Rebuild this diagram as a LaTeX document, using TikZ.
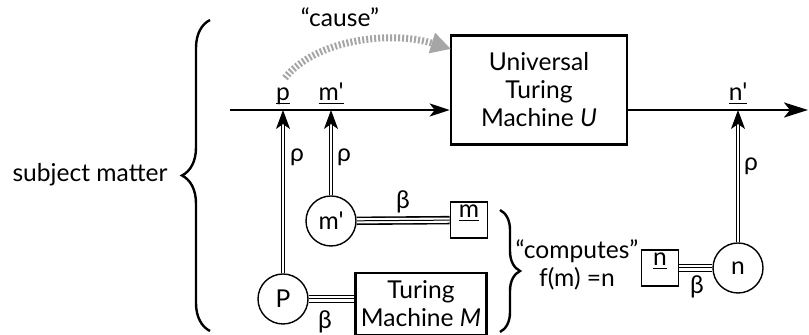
\documentclass[tikz,border=0pt]{standalone}
\usepackage{fontspec}
\setmainfont{Lato}[Ligatures=TeXOff]
\usetikzlibrary{arrows.meta,decorations.pathreplacing}
\definecolor{hatch}{HTML}{A6A6A6}
\newcommand\tok[1]{\underline{\smash{#1}}}

\begin{document}
\begin{tikzpicture}[x=.5pt,y=-.5pt,every node/.style={font=\fontsize{12.3}{14}\selectfont,inner sep=0pt,align=center},
  machine/.style={draw,line width=1.3pt},
  token/.style={draw,line width=.9pt,minimum width=18.5pt,minimum height=18pt},
  thing/.style={draw,circle,line width=.7pt,minimum size=25pt},
  wire/.style={line width=1.3pt,-{Stealth[length=10pt,width=6.5pt,inset=2.5pt]}},
  rho/.style={double,double distance=1.4pt,line width=.5pt,-{Stealth[length=9.5pt,width=7pt,inset=2.5pt]}},
  beta/.style={line width=2.6pt,white,preaction={draw=black,line width=4.2pt},postaction={draw=black,line width=.5pt}},
  brace/.style={decorate,line width=1.2pt}]
\useasboundingbox (0,0) rectangle (809,335);
\node[machine,minimum width=88pt,minimum height=54.5pt] (utm) at (539,90) {Universal\\Turing\\Machine \emph{U}};
\node[machine,minimum width=65.5pt,minimum height=31pt] (tm) at (421,304) {Turing\\Machine \emph{M}};
\node[token] (mbox) at (469,220) {\tok{m}};
\node[token] (nbox) at (660,268) {\tok{n}};
\node[thing] (P) at (283,299) {P};
\node[thing] (mp) at (331,221) {m'};
\node[thing] (n) at (738,268) {n};
% tape line through U
\coordinate (start) at (230,110);
\coordinate (stop) at (808,110);
\coordinate (pin) at (283,110);
\coordinate (min) at (331,110);
\coordinate (nout) at (738,110);
\draw[wire] (start) -- (start -| utm.west);
\draw[wire,-{Stealth[length=12pt,width=7.5pt,inset=3pt]}] (stop -| utm.east) -- (stop);
\node[anchor=base] at (283,101) {\tok{p}};
\node[anchor=base] at (331,101) {\tok{m'}};
\node[anchor=base] at (738,101) {\tok{n'}};
% representation
\draw[rho] (P) -- (pin);
\draw[rho] (mp) -- (min);
\draw[rho] (n) -- (nout);
\node at (297,157) {ρ};
\node at (344,157) {ρ};
\node at (751,166) {ρ};
\draw[beta] (P) -- (P -| tm.west);
\draw[beta] (mp) -- (mbox);
\draw[beta] (nbox) -- (n);
\node at (403,202) {β};
\node at (325,322) {β};
\node at (697,287) {β};
% cause
\draw[hatch,line width=3.5pt,dash pattern=on 1pt off 1pt,-{Triangle[length=10pt,width=10pt]}] (285,78) .. controls (315,40) and (390,30) .. (451,49);
\node at (340,17) {“cause”};
% braces
\draw[brace,decoration={brace,amplitude=14pt}] (210,331) -- (210,20);
\node at (90,175) {subject matter};
\draw[brace,decoration={brace,amplitude=10pt}] (500,210) -- (500,332);
\node at (577,265) {“computes”\\f(m) =n};
\end{tikzpicture}
\end{document}
